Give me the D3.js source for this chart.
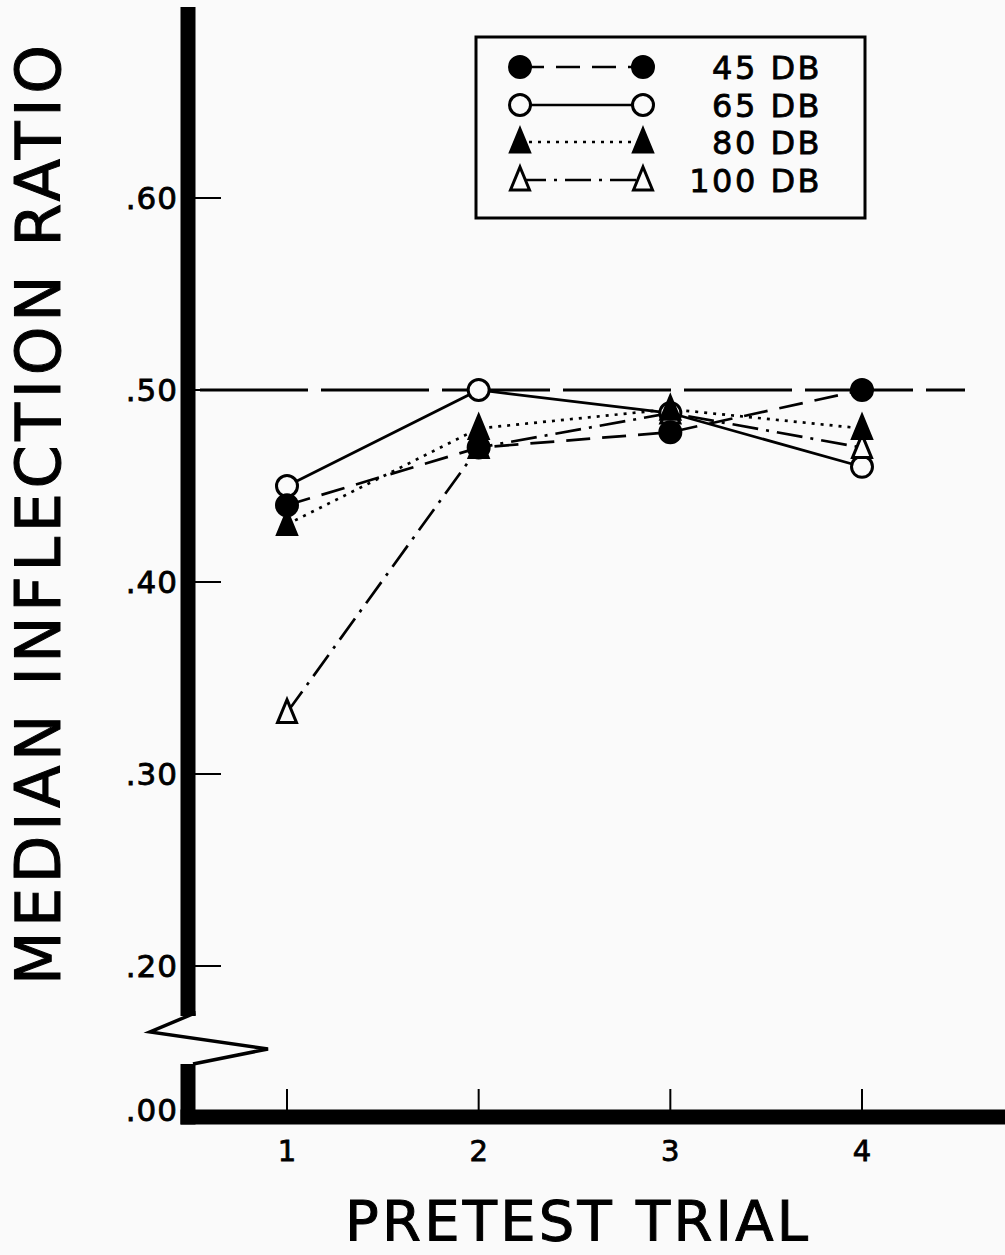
<!DOCTYPE html>
<html>
<head>
<meta charset="utf-8">
<script src="https://cdn.jsdelivr.net/npm/d3@7"></script>
<style>
  body { margin: 0; background: #fafafa; }
</style>
</head>
<body>
<script>
var CANVAS_WIDTH = 1005;
var CANVAS_HEIGHT = 1255;

// data
var trials = [1, 2, 3, 4];
var yTicks = [0.20, 0.30, 0.40, 0.50, 0.60];
var yTickLabels = [".20", ".30", ".40", ".50", ".60"];
var seriesNames = ["45 DB", "65 DB", "80 DB", "100 DB"];
var db45 = [0.44, 0.47, 0.478, 0.50];
var db65 = [0.45, 0.50, 0.488, 0.46];
var db80 = [0.43, 0.48, 0.49, 0.48];
var db100 = [0.332, 0.47, 0.488, 0.47];
var referenceValue = 0.50;

var canvas = d3.select("body")
    .append("svg")
    .attr("width", CANVAS_WIDTH)
    .attr("height", CANVAS_HEIGHT)
    .style("font-family", "'DejaVu Sans', sans-serif");

canvas.append("rect")
    .attr("width", CANVAS_WIDTH)
    .attr("height", CANVAS_HEIGHT)
    .attr("fill", "#fafafa");

var x = d3.scaleLinear().domain([1, 4]).range([287, 862]);
var y = d3.scaleLinear().domain([0.20, 0.60]).range([966, 198]);

var AXIS_X = 188;     // centre of the thick vertical axis
var AXIS_Y = 1117;    // centre of the thick horizontal axis
var ZERO_Y = 1110;    // where ".00" sits

var styles = [
    {name: seriesNames[0], values: db45, dash: "24,12", marker: "circle", fill: "black"},
    {name: seriesNames[1], values: db65, dash: null, marker: "circle", fill: "#fafafa"},
    {name: seriesNames[2], values: db80, dash: "3,6", marker: "triangle", fill: "black"},
    {name: seriesNames[3], values: db100, dash: "26,8,3,8", marker: "triangle", fill: "#fafafa"}
];

// the printed lettering is a bit heavier than DejaVu regular
function inked(sel, w) {
    return sel.attr("stroke", "black").attr("stroke-width", w).attr("paint-order", "stroke");
}

/* thick axes with the break in the y axis */
canvas.append("rect")
    .attr("x", AXIS_X - 7.5).attr("y", 7)
    .attr("width", 15).attr("height", 1009)
    .attr("fill", "black");
canvas.append("path")
    .attr("d", "M" + (AXIS_X - 7.5) + " 1016 L" + (AXIS_X + 7.5) + " 1016 L" + (AXIS_X + 7.5) + " 1011 Z")
    .attr("fill", "black");
canvas.append("path")
    .attr("d", "M" + (AXIS_X + 7) + " 1013 L150 1032 L268 1049 L" + (AXIS_X + 5) + " 1064")
    .attr("fill", "none")
    .attr("stroke", "black")
    .attr("stroke-width", 3.5)
    .attr("stroke-linejoin", "miter");
canvas.append("rect")
    .attr("x", AXIS_X - 7.5).attr("y", 1064)
    .attr("width", 15).attr("height", AXIS_Y + 7.5 - 1064)
    .attr("fill", "black");
canvas.append("rect")
    .attr("x", AXIS_X - 7.5).attr("y", AXIS_Y - 7.5)
    .attr("width", CANVAS_WIDTH - AXIS_X + 7.5).attr("height", 15)
    .attr("fill", "black");

/* y ticks and labels */
canvas.selectAll(".ytick")
    .data(yTicks)
    .enter().append("line")
    .attr("x1", AXIS_X + 7).attr("x2", AXIS_X + 33)
    .attr("y1", d => y(d)).attr("y2", d => y(d))
    .attr("stroke", "black").attr("stroke-width", 2);
inked(canvas.selectAll(".ylabel")
    .data(yTicks)
    .enter().append("text")
    .attr("x", 178)
    .attr("y", d => y(d))
    .attr("dy", ".36em")
    .attr("text-anchor", "end")
    .attr("font-size", "31px")
    .attr("letter-spacing", "1px")
    .text((d, i) => yTickLabels[i]), 0.8);
inked(canvas.append("text")
    .attr("x", 178).attr("y", ZERO_Y)
    .attr("dy", ".36em")
    .attr("text-anchor", "end")
    .attr("font-size", "31px")
    .attr("letter-spacing", "1px")
    .text(".00"), 0.8);

/* x ticks and labels */
canvas.selectAll(".xtick")
    .data(trials)
    .enter().append("line")
    .attr("x1", d => x(d)).attr("x2", d => x(d))
    .attr("y1", AXIS_Y - 7).attr("y2", AXIS_Y - 28)
    .attr("stroke", "black").attr("stroke-width", 2);
inked(canvas.selectAll(".xlabel")
    .data(trials)
    .enter().append("text")
    .attr("x", d => x(d))
    .attr("y", 1161)
    .attr("text-anchor", "middle")
    .attr("font-size", "29px")
    .text(d => d), 0.8);

/* axis titles */
inked(canvas.append("text")
    .attr("x", 345).attr("y", 1240)
    .attr("font-size", "56px")
    .attr("textLength", 463)
    .attr("lengthAdjust", "spacing")
    .text("PRETEST  TRIAL"), 1);
inked(canvas.append("text")
    .attr("transform", "translate(60,985) rotate(-90)")
    .attr("font-size", "62px")
    .attr("textLength", 940)
    .attr("lengthAdjust", "spacing")
    .text("MEDIAN INFLECTION RATIO"), 1);

/* 0.50 reference line */
canvas.append("line")
    .attr("x1", 200).attr("x2", 965)
    .attr("y1", y(referenceValue)).attr("y2", y(referenceValue))
    .attr("stroke", "black").attr("stroke-width", 3)
    .attr("stroke-dasharray", "108,13");

function drawMarker(g, kind, cx, cy, fill) {
    if (kind === "circle") {
        g.append("circle")
            .attr("cx", cx).attr("cy", cy).attr("r", 10.5)
            .attr("fill", fill)
            .attr("stroke", "black").attr("stroke-width", 3);
    } else {
        g.append("path")
            .attr("d", "M" + cx + " " + (cy - 13) + " L" + (cx + 9.5) + " " + (cy + 10) +
                " L" + (cx - 9.5) + " " + (cy + 10) + " Z")
            .attr("fill", fill)
            .attr("stroke", "black").attr("stroke-width", 3)
            .attr("stroke-linejoin", "miter");
    }
}

var line = d3.line()
    .x((d, i) => x(trials[i]))
    .y(d => y(d));

var plot = canvas.append("g");
styles.forEach(function(s) {
    plot.append("path")
        .attr("d", line(s.values))
        .attr("fill", "none")
        .attr("stroke", "black")
        .attr("stroke-width", 2.7)
        .attr("stroke-dasharray", s.dash);
});
// markers on top; the open circle at trial 3 is hidden under the others
[1, 3, 2, 0].forEach(function(k) {
    var s = styles[k];
    s.values.forEach(function(v, i) {
        drawMarker(plot, s.marker, x(trials[i]), y(v), s.fill);
    });
});

/* legend */
var legend = canvas.append("g");
legend.append("rect")
    .attr("x", 476).attr("y", 37)
    .attr("width", 389).attr("height", 181)
    .attr("fill", "none")
    .attr("stroke", "black").attr("stroke-width", 3);
var legendRows = [67, 105, 142, 180];
styles.forEach(function(s, i) {
    var ly = legendRows[i];
    legend.append("line")
        .attr("x1", 520).attr("x2", 643)
        .attr("y1", ly).attr("y2", ly)
        .attr("stroke", "black").attr("stroke-width", 2.5)
        .attr("stroke-dasharray", s.dash);
    drawMarker(legend, s.marker, 520, ly, s.fill);
    drawMarker(legend, s.marker, 643, ly, s.fill);
    inked(legend.append("text")
        .attr("x", 822).attr("y", ly)
        .attr("dy", ".36em")
        .attr("text-anchor", "end")
        .attr("font-size", "32px")
        .attr("letter-spacing", "2.5px")
        .text(s.name), 0.8);
});
</script>
</body>
</html>
